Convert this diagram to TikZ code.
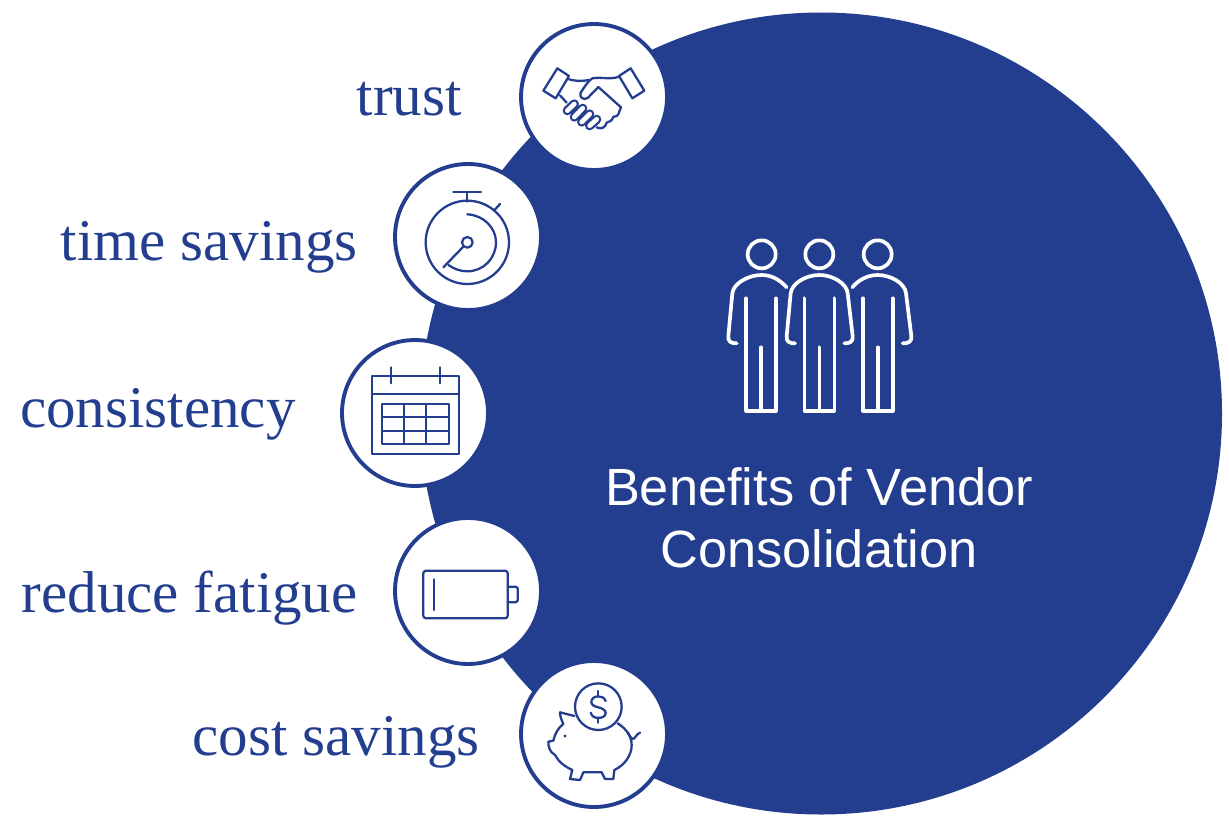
\documentclass[tikz,border=0pt]{standalone}
\usepackage{fontspec}
\setmainfont{Liberation Serif}
\newfontfamily\titlefont{Liberation Sans}
\definecolor{vendorblue}{HTML}{233E8E}
\tikzset{
  benefit/.style={circle,draw=vendorblue,fill=white,line width=2.2pt,minimum size=2.92cm,inner sep=0pt},
  benefitlabel/.style={anchor=base east,text=vendorblue,font=\fontsize{33.6}{34}\selectfont,inner sep=0pt},
  titleline/.style={anchor=base,text=white,font=\titlefont\fontsize{29.8}{30}\selectfont,inner sep=0pt},
  icon/.style={draw=vendorblue,line width=1.3pt,line join=round,line cap=round},
  fingerline/.style={draw=vendorblue,line width=1.3pt,double=white,double distance=2.7pt,line cap=round},
  personline/.style={draw=white,line width=2.1pt,line join=round,line cap=round}
}
\begin{document}
\begin{tikzpicture}[x=0.02cm,y=-0.02cm]
\useasboundingbox (0,0) rectangle (1229,828);

\fill[vendorblue] (821,413.5) circle[radius=401];

\node[benefit] (trust) at (594,97) {};
\node[benefit] (time) at (468,237) {};
\node[benefit] (consistency) at (415,413) {};
\node[benefit] (fatigue) at (468,591) {};
\node[benefit] (cost) at (594,734) {};

\node[benefitlabel] (trustlabel) at (462,115) {trust};
\node[benefitlabel] (timelabel) at (358,260) {time savings};
\node[benefitlabel] (consistencylabel) at (296,427) {consistency};
\node[benefitlabel] (fatiguelabel) at (358,612) {reduce fatigue};
\node[benefitlabel] (costlabel) at (480,755) {cost savings};

\node[titleline] (titleA) at (819,505) {Benefits of Vendor};
\node[titleline] (titleB) at (819,567) {Consolidation};

% handshake
\begin{scope}[shift={(515,20)},scale=1/3]
\draw[icon] (127,145)--(162,168)--(122,235)--(85,212)--cycle;
\draw[icon] (347,145)--(312,168)--(352,235)--(388,212)--cycle;
\draw[icon] (162,178) .. controls (185,184) and (200,184) .. (222,180);
\draw[icon] (312,170) .. controls (285,180) and (260,170) .. (232,175) .. controls (222,180) and (205,205) .. (197,218) .. controls (192,232) and (205,242) .. (218,234) -- (250,201) -- (318,262);
\draw[icon] (318,262) .. controls (310,275) and (315,290) .. (295,290) .. controls (292,305) and (280,305) .. (275,308) .. controls (272,322) and (258,330) .. (245,322);
\draw[icon] (135,226)--(155,248);
\draw[fingerline] (157,272)--(178,252);
\draw[fingerline] (178,291)--(203,265);
\draw[fingerline] (200,306)--(224,282);
\draw[fingerline] (224,317)--(245,298);
\end{scope}

% stopwatch
\begin{scope}[shift={(390,160)},scale=1/3]
\draw[icon] (232,247) circle[radius=125];
\draw[icon] (232,247) circle[radius=16];
\draw[icon] (190,95)--(273,95);
\draw[icon] (232,95)--(232,125);
\draw[icon] (312,152)--(330,132);
\draw[icon] (220,260)--(160,322);
\draw[icon] (232,163) .. controls (280,165) and (318,203) .. (318,247) .. controls (318,295) and (280,334) .. (232,334) .. controls (212,334) and (192,327) .. (175,315);
\end{scope}

% calendar and battery
\begin{scope}[shift={(340,335)},scale=1/3]
\draw[icon] (97,122) rectangle (356,357);
\draw[icon] (97,177)--(356,177);
\draw[icon] (152,97)--(152,145);
\draw[icon] (300,97)--(300,145);
\draw[icon] (127,207) rectangle (326,327);
\foreach \gridx in {193,258} \draw[icon] (\gridx,207)--(\gridx,327);
\foreach \gridy in {247,287} \draw[icon] (127,\gridy)--(326,\gridy);
\draw[icon,rounded corners=1.5pt] (250,707) rectangle (503,850);
\draw[icon,rounded corners=1pt] (503,755)--(533,755)--(533,802)--(503,802);
\draw[icon] (281,733)--(281,825);
\end{scope}

% piggy bank
\begin{scope}[shift={(515,655)},scale=1/3]
\draw[icon] (250,155) circle[radius=70];
\draw[icon] (250,108)--(250,125);
\draw[icon] (250,187)--(250,203);
\draw[icon] (272,138) .. controls (268,128) and (260,124) .. (250,124) .. controls (238,124) and (229,131) .. (229,141) .. controls (229,150) and (238,154) .. (250,157) .. controls (262,160) and (272,165) .. (272,174) .. controls (272,183) and (262,189) .. (250,189) .. controls (238,189) and (230,183) .. (227,173);
\draw[icon] (178,183)--(135,172) .. controls (135,185) and (140,195) .. (145,207) .. controls (130,218) and (120,235) .. (115,257) -- (100,260) .. controls (100,275) and (103,290) .. (120,300) .. controls (130,320) and (150,335) .. (172,345) -- (165,372) -- (195,375) -- (205,352) -- (260,352) -- (270,372) -- (295,372) -- (298,345) .. controls (330,330) and (350,300) .. (350,270) .. controls (350,245) and (335,222) .. (308,205);
\draw[icon] (338,232) .. controls (345,240) and (345,250) .. (352,252) .. controls (360,254) and (362,238) .. (375,233);
\fill[vendorblue] (150,243) circle[radius=5];
\end{scope}

% people
\begin{scope}[shift={(715,230)},scale=1/3]
\foreach \headx in {140,313,488} \draw[personline] (\headx,73) circle[radius=42];
\foreach \legx in {138,313,488} {
  \draw[personline] (\legx-45,205)--(\legx-45,542)--(\legx+45,542)--(\legx+45,205);
  \draw[personline] (\legx,352)--(\legx,542);
}
\draw[personline] (65,340) .. controls (48,340) and (38,335) .. (40,318) -- (52,190) .. controls (55,160) and (100,135) .. (140,135) .. controls (170,135) and (195,150) .. (215,172);
\draw[personline] (240,340) .. controls (223,340) and (213,335) .. (215,318) -- (227,190) .. controls (230,160) and (273,135) .. (313,135) .. controls (353,135) and (395,160) .. (398,190) -- (413,318) .. controls (415,335) and (405,340) .. (388,340);
\draw[personline] (412,172) .. controls (430,150) and (458,135) .. (488,135) .. controls (528,135) and (570,160) .. (573,190) -- (589,318) .. controls (591,335) and (581,340) .. (563,340);
\end{scope}

\end{tikzpicture}
\end{document}
